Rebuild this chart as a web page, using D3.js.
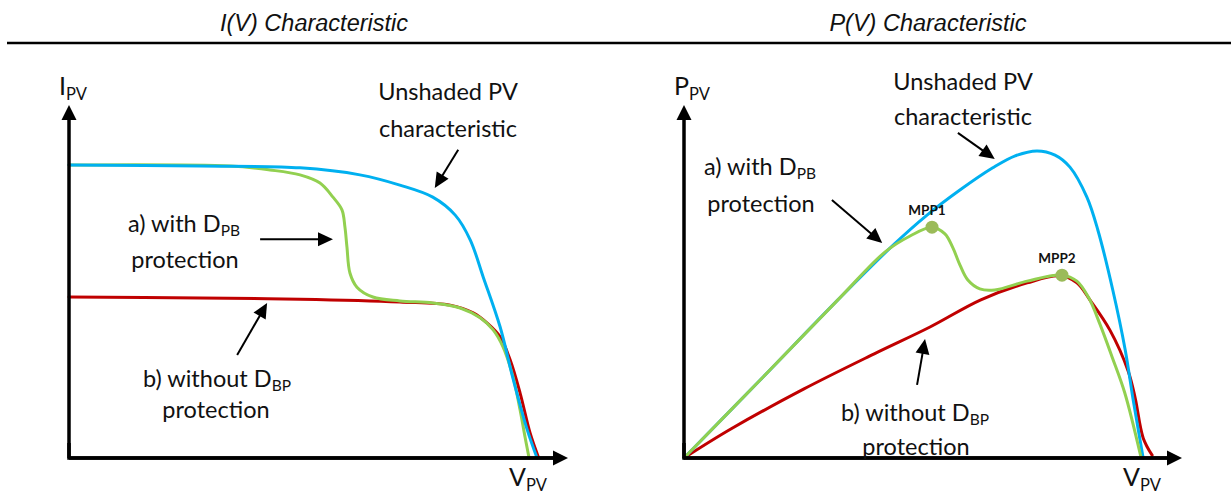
<!DOCTYPE html>
<html><head><meta charset="utf-8">
<script src="https://cdn.jsdelivr.net/npm/d3@7"></script>
<style>body{margin:0;background:#fff} svg{display:block}</style>
</head><body>
<svg id="c" width="1231" height="495"></svg>
<script>
// ---------- data (normalised units: axis arrow tip = 100) ----------
const titles = ["I(V) Characteristic", "P(V) Characteristic"];

const ivUnshaded = [[0,83.0],[26.3,82.7],[46.3,82.2],[58.3,80.2],[66.3,77.3],[72.9,73.9],[77.4,68.8],[80.4,61.8],[83.0,51.3],[86.4,37.1],[89.0,22.4],[91.8,8.1],[93.8,0]];
const ivWithDpb  = [[0,83.0],[32.3,82.7],[40.3,81.6],[46.3,80.2],[50.3,77.9],[52.9,73.9],[54.7,70.3],[55.3,65.4],[55.7,59.8],[56.3,52.4],[57.7,48.4],[60.9,45.6],[66.3,44.5],[72.9,43.9],[78.4,42.5],[82.4,39.7],[85.0,36.3],[87.0,31.4],[89.0,22.9],[90.4,13.6],[91.4,5.9],[92.2,0]];
const ivWithoutDbp = [[0,45.6],[26.3,45.3],[46.3,45.0],[66.3,44.2],[76.4,43.3],[81.0,41.1],[83.8,38.2],[86.4,34.3],[88.4,27.8],[90.4,18.4],[92.4,7.1],[94.0,0.5]];

const pvUnshaded = [[0,0],[15.3,22.1],[30.9,44.8],[42.0,60.3],[48.8,68.8],[55.4,75.9],[62.0,82.2],[66.5,85.6],[70.9,87.0],[74.5,85.8],[77.5,82.4],[80.9,73.9],[83.1,64.6],[86.1,47.6],[88.6,30.6],[90.2,16.4],[91.4,6.5],[92.2,0]];
const pvWithDpb  = [[0,0],[15.3,22.1],[30.9,44.8],[40.4,58.4],[45.4,62.9],[49.8,65.4],[52.4,63.5],[54.0,59.5],[55.4,54.7],[57.0,50.4],[59.4,47.9],[62.4,47.6],[68.9,50.1],[75.9,51.8],[78.9,50.1],[81.3,45.3],[83.5,38.0],[86.0,28.5],[88.5,18.5],[91.8,0]];
const pvWithoutDbp = [[0,0],[9.4,8.2],[24.0,19.5],[38.2,29.5],[49.4,37.1],[59.6,44.8],[68.9,49.6],[75.5,51.6],[78.9,49.6],[81.5,44.8],[85.5,36.3],[89.2,24.6],[90.6,17.0],[92.2,5.7],[94.0,0.8]];

const mppPoints = [{label:"MPP1", v:49.8, p:65.4}, {label:"MPP2", v:75.9, p:51.8}];

const axisLabels = [{main:"I", sub:"PV"}, {main:"P", sub:"PV"}];
const xAxisLabel = {main:"V", sub:"PV"};

// ---------- layout ----------
const svg = d3.select("#c");
const colors = {unshaded:"#00B0F0", withDpb:"#92D050", withoutDbp:"#C00000", mpp:"#9BBB59"};
const panels = [
  {x0:69, x1:568, titleX:314, series:[ivWithoutDbp, ivWithDpb, ivUnshaded]},
  {x0:684, x1:1182, titleX:928, series:[pvWithoutDbp, pvUnshaded, pvWithDpb]}
];
const yBottom = 458, yTop = 105;
const textFont = "Lato, 'Noto Sans', sans-serif";

// title rule
svg.append("line").attr("x1",7).attr("x2",1231).attr("y1",43).attr("y2",43)
  .attr("stroke","#000").attr("stroke-width",2.5);

titles.forEach((t,i)=>{
  svg.append("text").attr("x",panels[i].titleX).attr("y",31)
    .attr("text-anchor","middle").attr("font-family","'Liberation Sans', Arial, sans-serif")
    .attr("font-style","italic").attr("font-size",23.5).attr("fill","#111").text(t);
});

function arrow(g, x1, y1, x2, y2, lw, hl, hw){
  const a = Math.atan2(y2-y1, x2-x1);
  const bx = x2 - hl*Math.cos(a), by = y2 - hl*Math.sin(a);
  g.append("line").attr("x1",x1).attr("y1",y1).attr("x2",bx+Math.cos(a)).attr("y2",by+Math.sin(a))
    .attr("stroke","#000").attr("stroke-width",lw);
  const px = -Math.sin(a)*hw/2, py = Math.cos(a)*hw/2;
  g.append("path").attr("d",`M${x2},${y2}L${bx+px},${by+py}L${bx-px},${by-py}Z`).attr("fill","#000");
}

function subText(g, x, y, parts, size, anchor, weight){
  const t = g.append("text").attr("x",x).attr("y",y).attr("text-anchor",anchor||"middle")
    .attr("font-family",textFont).attr("font-size",size).attr("fill","#111")
    .attr("font-weight",weight||"normal");
  t.append("tspan").text(parts.main);
  if (parts.sub) t.append("tspan").attr("font-size",size*0.66).attr("dy",size*0.18).text(parts.sub);
  return t;
}

const scales = panels.map(p => ({
  x: d3.scaleLinear().domain([0,100]).range([p.x0, p.x1]),
  y: d3.scaleLinear().domain([0,100]).range([yBottom, yTop])
}));

panels.forEach((p,i)=>{
  const g = svg.append("g");
  const {x, y} = scales[i];
  const line = d3.line().x(d=>x(d[0])).y(d=>y(d[1])).curve(d3.curveCatmullRom.alpha(0.5));
  const colorFor = s => (s===ivUnshaded||s===pvUnshaded) ? colors.unshaded :
                        (s===ivWithDpb||s===pvWithDpb) ? colors.withDpb : colors.withoutDbp;
  p.series.forEach(s=>{
    g.append("path").attr("d",line(s)).attr("fill","none")
      .attr("stroke",colorFor(s)).attr("stroke-width",3).attr("stroke-linecap","round");
  });
  // axes
  const ax = svg.append("g");
  ax.append("path").attr("d",`M${x(0)},${y(0)-15}L${x(0)},${y(0)}L${x(100)-15},${y(0)}`)
    .attr("fill","none").attr("stroke","#000").attr("stroke-width",3.5);
  arrow(ax, x(0), y(0), x(0), y(100), 3.5, 15, 15);
  arrow(ax, x(0), y(0), x(100), y(0), 3.5, 15, 15);
  subText(svg, x(0)-10, 95, axisLabels[i], 25, "start");
  subText(svg, x(100)-59, 486, xAxisLabel, 25, "start");
});

// MPP markers
mppPoints.forEach(m=>{
  const {x,y} = scales[1];
  svg.append("circle").attr("cx",x(m.v)).attr("cy",y(m.p)).attr("r",6.5).attr("fill",colors.mpp);
  svg.append("text").attr("x",x(m.v)-5).attr("y",y(m.p)-12).attr("text-anchor","middle")
    .attr("font-family",textFont).attr("font-weight","bold").attr("font-size",13.5).attr("fill","#111").text(m.label);
});

// annotations
const L = scales[0], R = scales[1];
const ann = svg.append("g");
const fs = 23.5;
subText(ann, 448, 100, {main:"Unshaded PV"}, fs);
subText(ann, 448, 137, {main:"characteristic"}, fs);
subText(ann, 184, 232, {main:"a) with D", sub:"PB"}, fs);
subText(ann, 185, 268, {main:"protection"}, fs);
subText(ann, 217, 387, {main:"b) without D", sub:"BP"}, fs);
subText(ann, 216, 418, {main:"protection"}, fs);
arrow(ann, L.x(78.0), L.y(87.3), L.x(73.3), L.y(76.5), 2, 15, 14);
arrow(ann, L.x(38.3), L.y(62.0), L.x(52.9), L.y(62.0), 2, 15, 14);
arrow(ann, L.x(33.7), L.y(29.2), L.x(39.7), L.y(43.9), 2, 15, 14);

subText(ann, 963, 90, {main:"Unshaded PV"}, fs);
subText(ann, 963, 125, {main:"characteristic"}, fs);
subText(ann, 760, 175, {main:"a) with D", sub:"PB"}, fs);
subText(ann, 761, 212, {main:"protection"}, fs);
subText(ann, 915, 421, {main:"b) without D", sub:"BP"}, fs);
subText(ann, 916, 455, {main:"protection"}, fs);
arrow(ann, R.x(55.0), R.y(92.1), R.x(62.4), R.y(84.7), 2, 15, 14);
arrow(ann, R.x(29.7), R.y(73.1), R.x(39.8), R.y(60.9), 2, 15, 14);
arrow(ann, R.x(46.8), R.y(20.7), R.x(48.4), R.y(33.7), 2, 15, 14);
</script>
</body></html>
